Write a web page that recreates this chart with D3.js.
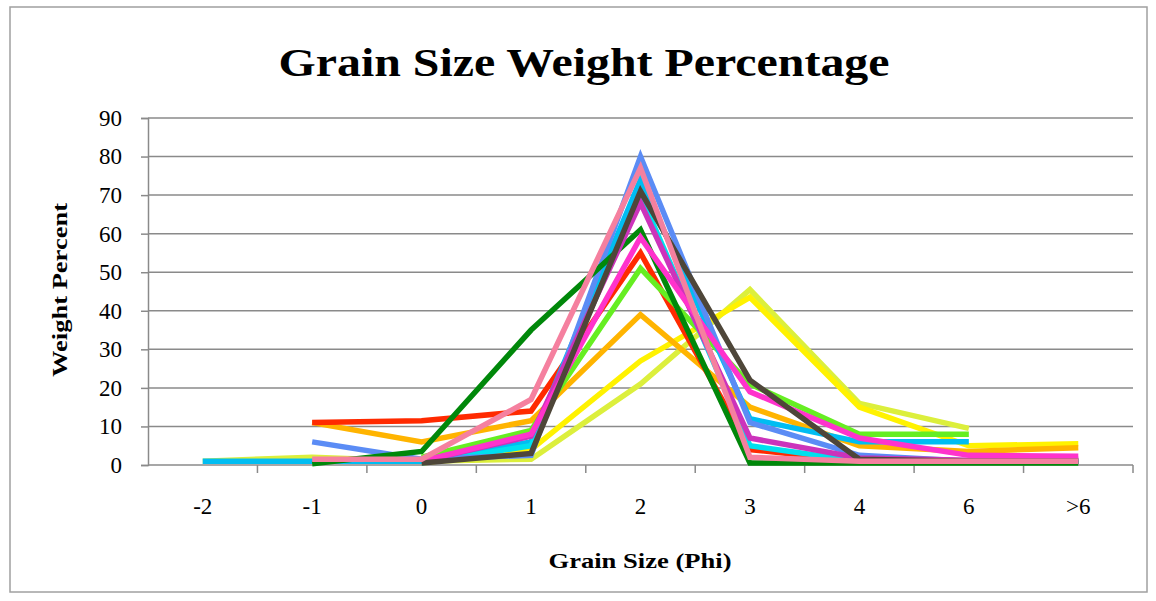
<!DOCTYPE html>
<html>
<head>
<meta charset="utf-8">
<script src="https://cdn.jsdelivr.net/npm/d3@7"></script>
<style>
  body { margin: 0; background: #fff; }
  svg text { font-family: "Liberation Serif", "Times New Roman", serif; fill: #000; }
</style>
</head>
<body>
<svg id="chart" width="1156" height="601"></svg>
<script>
// categories on the x axis
const categories = ["-2", "-1", "0", "1", "2", "3", "4", "6", ">6"];
const yTicks = [0, 10, 20, 30, 40, 50, 60, 70, 80, 90];

// one array per sample (null = no value for that size class)
const yellowGreen = [1, 2, 1, 1.5, 21, 45.5, 16, 9.5, null];
const yellow      = [null, null, 0.5, 4, 27, 43.5, 15, 5, 5.5];
const orange      = [null, 11, 6, 11.5, 39, 15, 5, 3.5, 4.5];
const red         = [null, 11, 11.5, 14, 55, 4, 1, 0.8, 1];
const lightGreen  = [null, null, 2, 9, 51, 21, 8, 8, null];
const cyan        = [1, 1, 1, 6, 74, 12, 6, 6, null];
const turquoise   = [null, null, 0.5, 5, 70, 5, 1, 1, 1];
const blue        = [null, 6, 1.5, 2.5, 80, 11, 2.5, 1, 1];
const darkGreen   = [null, 0.3, 3.5, 35, 61, 0.5, 0.5, 0.5, 0.5];
const purple      = [null, null, 1, 7.5, 68, 7, 1.8, 1.2, 1.5];
const magenta     = [null, null, 1, 8, 59, 19, 7, 2.5, 2.3];
const darkGray    = [null, null, 0.5, 3, 71, 22, 1.5, 1, 1];
const pink        = [null, 1.5, 1.5, 17, 77, 2, 1, 1, 1];

const series = [
  { values: yellowGreen, color: "#dcef3c" },
  { values: yellow,      color: "#fff200" },
  { values: orange,      color: "#ffb400" },
  { values: red,         color: "#ff2a00" },
  { values: lightGreen,  color: "#66ee22" },
  { values: cyan,        color: "#00bdf2" },
  { values: turquoise,   color: "#00e0ee" },
  { values: blue,        color: "#5b8cf5" },
  { values: darkGreen,   color: "#00880a" },
  { values: purple,      color: "#cc33bb" },
  { values: magenta,     color: "#ff33cc" },
  { values: darkGray,    color: "#4e4639" },
  { values: pink,        color: "#f5809f" }
];

const svg = d3.select("#chart");
const plotLeft = 148, plotRight = 1133, plotTop = 118, plotBottom = 465;

// outer frame
svg.append("rect")
  .attr("x", 10).attr("y", 7)
  .attr("width", 1137).attr("height", 585)
  .attr("fill", "none")
  .attr("stroke", "#a0a0a0")
  .attr("stroke-width", 1.5);

const x = d3.scaleBand().domain(categories).range([plotLeft, plotRight]).padding(0);
const y = d3.scaleLinear().domain([0, 90]).range([plotBottom, plotTop]);

// gridlines
svg.append("g")
  .selectAll("line")
  .data(yTicks.filter(d => d > 0))
  .join("line")
  .attr("x1", plotLeft).attr("x2", plotRight)
  .attr("y1", d => y(d)).attr("y2", d => y(d))
  .attr("stroke", "#8a8a8a")
  .attr("stroke-width", 1.5);

// y axis
const yAxis = svg.append("g")
  .attr("transform", `translate(${plotLeft},0)`)
  .call(d3.axisLeft(y).tickValues(yTicks).tickSize(7).tickPadding(19));
yAxis.select(".domain").attr("stroke", "#8a8a8a").attr("stroke-width", 1.5);
yAxis.selectAll(".tick line").attr("stroke", "#8a8a8a").attr("stroke-width", 1.5);
yAxis.selectAll(".tick text")
  .attr("font-family", "Liberation Serif")
  .attr("font-size", 23)
  .attr("fill", "#000");

// x axis: ticks at band boundaries
const xAxis = svg.append("g")
  .attr("transform", `translate(0,${plotBottom})`);
xAxis.append("line")
  .attr("x1", plotLeft).attr("x2", plotRight)
  .attr("stroke", "#8a8a8a").attr("stroke-width", 1.5);
xAxis.selectAll("line.tk")
  .data(categories)
  .join("line")
  .attr("class", "tk")
  .attr("x1", d => x(d) + x.bandwidth())
  .attr("x2", d => x(d) + x.bandwidth())
  .attr("y1", 0).attr("y2", 8)
  .attr("stroke", "#8a8a8a").attr("stroke-width", 1.5);
xAxis.selectAll("text")
  .data(categories)
  .join("text")
  .attr("x", d => x(d) + x.bandwidth() / 2)
  .attr("y", 49)
  .attr("text-anchor", "middle")
  .attr("font-size", 23)
  .text(d => d);

// lines
const line = d3.line()
  .defined(d => d.v != null)
  .x(d => x(d.c) + x.bandwidth() / 2)
  .y(d => y(d.v));

svg.append("g")
  .selectAll("path")
  .data(series)
  .join("path")
  .attr("d", s => line(s.values.map((v, i) => ({ c: categories[i], v }))))
  .attr("fill", "none")
  .attr("stroke", s => s.color)
  .attr("stroke-width", 5.5)
  .attr("stroke-linejoin", "miter");

// titles
svg.append("text")
  .attr("x", 584).attr("y", 76)
  .attr("text-anchor", "middle")
  .attr("font-size", 41)
  .attr("font-weight", "bold")
  .attr("textLength", 611)
  .attr("lengthAdjust", "spacingAndGlyphs")
  .text("Grain Size Weight Percentage");

svg.append("text")
  .attr("x", 640).attr("y", 568)
  .attr("text-anchor", "middle")
  .attr("font-size", 21)
  .attr("font-weight", "bold")
  .attr("textLength", 183)
  .attr("lengthAdjust", "spacingAndGlyphs")
  .text("Grain Size (Phi)");

svg.append("text")
  .attr("transform", "translate(67,290) rotate(-90)")
  .attr("text-anchor", "middle")
  .attr("font-size", 22)
  .attr("font-weight", "bold")
  .attr("textLength", 174)
  .attr("lengthAdjust", "spacingAndGlyphs")
  .text("Weight Percent");
</script>
</body>
</html>
